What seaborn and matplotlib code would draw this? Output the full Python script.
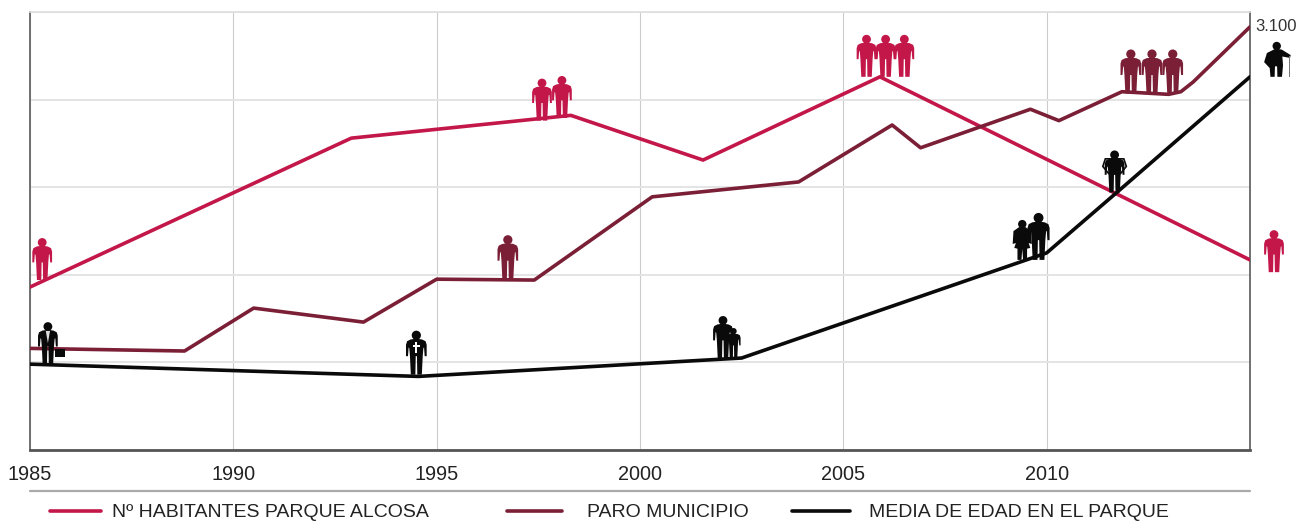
import numpy as np
import pandas as pd
import seaborn as sns
import matplotlib
matplotlib.use("Agg")
import matplotlib.pyplot as plt
from matplotlib.lines import Line2D
from matplotlib.patches import Circle, Polygon, Rectangle
from matplotlib.transforms import Affine2D

RED, WINE, BLACK = "#c3174a", "#7b1f36", "#0a0a0a"
names = ["Nº HABITANTES PARQUE ALCOSA", "PARO MUNICIPIO", "MEDIA DE EDAD EN EL PARQUE"]

red_years = [1985, 1992.9, 1998.3, 2001.55, 2005.9, 2015]
red_vals = [1.86, 3.56, 3.82, 3.31, 4.26, 2.17]
wine_years = [1985, 1988.8, 1990.5, 1993.2, 1995, 1997.4, 2000.3, 2003.9, 2006.2, 2006.9,
              2009.6, 2010.3, 2011.85, 2013, 2013.3, 2013.6, 2015]
wine_vals = [1.16, 1.13, 1.62, 1.46, 1.95, 1.94, 2.89, 3.06, 3.71, 3.45,
             3.89, 3.76, 4.09, 4.06, 4.09, 4.2, 4.83]
black_years = [1985, 1994.55, 2002.5, 2010, 2011.7, 2015]
black_vals = [0.98, 0.84, 1.05, 2.25, 2.93, 4.26]

x_ticks = [1985, 1990, 1995, 2000, 2005, 2010]
y_ticks = [0, 1, 2, 3, 4, 5]
end_label = "3.100"

red_icon_x = [1985.3, 1997.59, 1998.08, 2005.57, 2006.04, 2006.5, 2015.59]
red_icon_y = [1.94, 3.76, 3.79, 4.26, 4.26, 4.26, 2.03]
wine_icon_x = [1996.75, 2012.07, 2012.59, 2013.1]
wine_icon_y = [1.95, 4.07, 4.07, 4.07]
black_icon_x = [1985.44, 1994.5, 2002.04, 2002.3, 2009.4, 2009.8, 2011.67, 2015.64]
black_icon_y = [0.98, 0.86, 1.05, 1.05, 2.17, 2.17, 2.94, 4.26]
black_icon_kind = ["suit", "cross", "man", "child", "woman", "tall", "wide", "old"]

df = pd.concat([
    pd.DataFrame({"year": red_years, "value": red_vals, "serie": names[0]}),
    pd.DataFrame({"year": wine_years, "value": wine_vals, "serie": names[1]}),
    pd.DataFrame({"year": black_years, "value": black_vals, "serie": names[2]}),
])

sns.set_theme(style="white")
plt.rcParams["font.family"] = ["Liberation Sans", "DejaVu Sans"]
W, H = 1297, 523
fig = plt.figure(figsize=(W / 100, H / 100), dpi=100, facecolor="white")
ax = fig.add_axes([30 / W, 1 - 450 / H, 1220 / W, 438 / H])

sns.lineplot(data=df, x="year", y="value", hue="serie", hue_order=names, sort=False,
             estimator=None, palette=[RED, WINE, BLACK], lw=2.6, ax=ax, legend=False, zorder=3)
ax.set_xlim(1985, 2015)
ax.set_ylim(0, 5)
ax.set_xlabel("")
ax.set_ylabel("")
ax.set_xticks(x_ticks)
ax.set_yticks(y_ticks)
ax.set_yticklabels([])
ax.tick_params(axis="x", length=0, pad=11, labelsize=14.3, labelcolor="#222222")
ax.tick_params(axis="y", length=0)
ax.grid(True, axis="y", color="#e4e4e4", lw=1.4)
ax.grid(True, axis="x", color="#cccccc", lw=0.8)
ax.set_axisbelow(True)
for s, c, w in [("left", "#666666", 1.3), ("right", "#666666", 1.3), ("bottom", "#555555", 2.0), ("top", "#dedede", 1.2)]:
    ax.spines[s].set_visible(True)
    ax.spines[s].set_color(c)
    ax.spines[s].set_linewidth(w)

half = [(0.02, 0.815), (0.13, 0.80), (0.21, 0.76), (0.235, 0.68), (0.235, 0.42), (0.19, 0.42),
        (0.175, 0.62), (0.16, 0.6), (0.145, 0.42), (0.125, 0.0), (0.022, 0.0), (0.014, 0.42)]
BODY = half + [(-x, y) for x, y in reversed(half)]


def icon(x, y, color, kind="man", size=42):
    px, py = ax.transData.transform((x, y))
    tr = Affine2D().scale(size).translate(px, py)
    head = Circle((0, 0.895), 0.105, fc=color, ec="none")
    if kind == "old":
        body = [(-0.02, 0.8), (0.16, 0.78), (0.42, 0.62), (0.4, 0.54), (0.18, 0.58), (0.2, 0.33),
                (0.17, 0.0), (0.04, 0.0), (0.03, 0.3), (-0.03, 0.3), (-0.04, 0.0), (-0.16, 0.0),
                (-0.18, 0.25), (-0.34, 0.42), (-0.26, 0.68)]
        parts = [Polygon(body, fc=color, ec="none"), Circle((0.02, 0.88), 0.12, fc=color, ec="none"),
                 Rectangle((0.37, 0.0), 0.035, 0.6, fc="#777777", ec="none")]
    elif kind == "woman":
        body = [(-0.08, 0.82), (0.08, 0.82), (0.22, 0.72), (0.24, 0.4), (0.16, 0.42), (0.2, 0.3),
                (0.12, 0.28), (0.12, 0.0), (0.02, 0.0), (0.0, 0.28), (-0.02, 0.0), (-0.12, 0.0), (-0.12, 0.28),
                (-0.2, 0.3), (-0.16, 0.42), (-0.24, 0.4), (-0.22, 0.72)]
        parts = [Polygon(body, fc=color, ec="none"), head]
    elif kind == "wide":
        parts = [Polygon(BODY, fc=color, ec="none"), head,
                 Polygon([(-0.22, 0.8), (0.22, 0.8), (0.28, 0.62), (0.14, 0.45), (-0.14, 0.45), (-0.28, 0.62)],
                         fc="none", ec=color, lw=1.2)]
    else:
        parts = [Polygon(BODY, fc=color, ec="none"), head]
        if kind == "suit":
            parts += [Polygon([(-0.05, 0.79), (0.05, 0.79), (0.0, 0.5)], fc="#dddddd", ec="none"),
                      Rectangle((0.17, 0.16), 0.24, 0.2, fc=color, ec="none")]
        if kind == "cross":
            parts += [Rectangle((-0.02, 0.5), 0.04, 0.25, fc="white", ec="none"),
                      Rectangle((-0.08, 0.63), 0.16, 0.035, fc="white", ec="none")]
    for p in parts:
        p.set_transform(tr)
        p.set_clip_on(False)
        p.set_zorder(4)
        ax.add_artist(p)


fig.canvas.draw()
for x, y in zip(red_icon_x, red_icon_y):
    icon(x, y, RED)
for x, y in zip(wine_icon_x, wine_icon_y):
    icon(x, y, WINE, size=44)
for x, y, k in zip(black_icon_x, black_icon_y, black_icon_kind):
    size = {"child": 30, "tall": 47, "woman": 40, "old": 35, "cross": 44}.get(k, 42)
    icon(x, y, BLACK, "man" if k in ("child", "tall") else k, size)

ax.annotate(end_label, (2015, wine_vals[-1]), xytext=(3.5, 0), textcoords="offset points",
            va="center", ha="left", fontsize=12, color="#333333", annotation_clip=False)

fig.add_artist(Line2D([30 / W, 1250 / W], [1 - 491 / H] * 2, color="#aaaaaa", lw=1.6))

legend_px = [(50, 101, 112), (507, 562, 587), (792, 850, 869)]
for name, col, (a, b, t) in zip(names, [RED, WINE, BLACK], legend_px):
    fig.add_artist(Line2D([a / W, b / W], [1 - 511 / H] * 2, color=col, lw=2.6))
    fig.text(t / W, 1 - 512.5 / H, name, fontsize=14, color="#222222", va="center", ha="left")

fig.savefig("out.png", dpi=100, facecolor="white")
